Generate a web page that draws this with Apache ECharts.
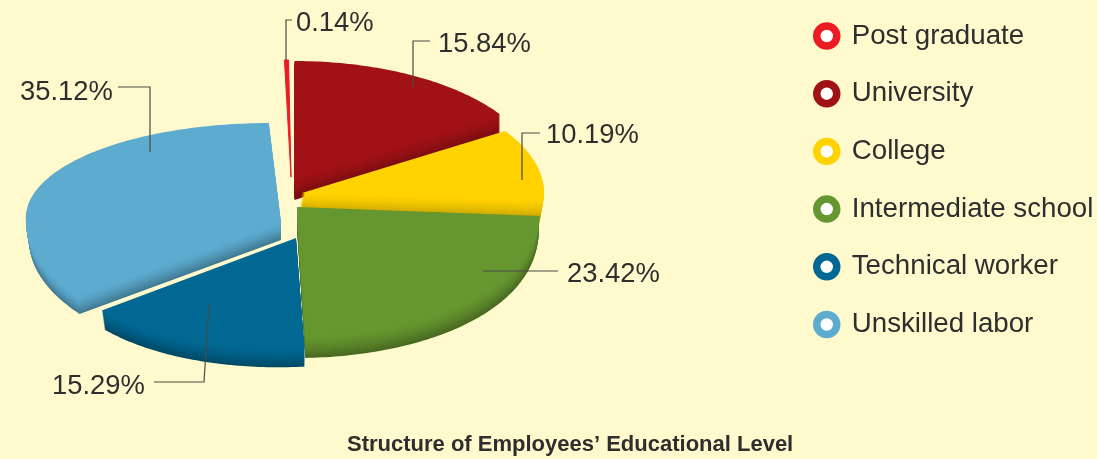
<!DOCTYPE html>
<html><head><meta charset="utf-8">
<style>html,body{margin:0;padding:0;background:#fffacd}#c{width:1097px;height:459px}</style>
<script src="https://cdn.jsdelivr.net/npm/echarts@6/dist/echarts.min.js"></script>
</head><body><div id="c"></div>
<script>
const categories = ['Post graduate','University','College','Intermediate school','Technical worker','Unskilled labor'];
const percents = [0.14,15.84,10.19,23.42,15.29,35.12];
const colors = ['#ed1c24','#a11216','#ffd200','#66962f','#006892','#5dacd0'];
const chartTitle = 'Structure of Employees\u2019 Educational Level';

// drawing style of each exploded slice (not data)
const sliceStyle = [
  {cx:291,cy:177,rimCy:177,rx:247,ryT:117,ryB:117,depth:0,skew:3.4,shear:0,bevel:0,drift:0,vPow:1,minSweep:0.95,edge:1},
  {cx:294.5,cy:178,rimCy:178,rx:245,ryT:117,ryB:117,depth:22,skew:0,shear:0,bevel:0,drift:0,vPow:1},
  {cx:302,cy:193,rimCy:193,rx:242,ryT:114,ryB:114,depth:22,skew:0,shear:0,bevel:0,drift:-4,vPow:1},
  {cx:297,cy:207,rimCy:204,rx:243,ryT:133,ryB:133,depth:21,skew:0,shear:0,bevel:0.004,drift:0,vPow:0.88},
  {cx:296,cy:238,rimCy:238,rx:243,ryT:110,ryB:110,depth:19,skew:0,shear:-8,bevel:0.014,drift:0,vPow:1},
  {cx:281,cy:222,rimCy:222,rx:255,ryT:99,ryB:123,depth:18,skew:10,shear:0,bevel:0.012,drift:0,vPow:1}
];
const leaderStyle = [
  {pts:[[286,60],[286,20],[292,20]],tx:296,ty:23},
  {pts:[[413,87],[413,41],[430,41]],tx:438,ty:44},
  {pts:[[522,180],[522,133],[540,133]],tx:546,ty:135},
  {pts:[[483,271],[558,271]],tx:567,ty:274},
  {pts:[[209,305],[204,382],[154,382]],tx:52,ty:386},
  {pts:[[150,152],[150,87],[118,87]],tx:20,ty:92}
];

const total = percents.reduce((a,b)=>a+b,0);
function hexMix(hex,f){
  const n=parseInt(hex.slice(1),16);
  const r=(n>>16)&255,g=(n>>8)&255,b=n&255;
  return 'rgb('+Math.round(r*f)+','+Math.round(g*f)+','+Math.round(b*f)+')';
}
function sliceRenderer(idx){
  return function(params,api){
    const val=api.value(0), s=sliceStyle[idx];
    let cum=-percents[0];
    for(let i=0;i<idx;i++) cum+=percents[i];
    let a0=cum/total*360, sweep=val/total*360;
    if(s.minSweep && sweep<s.minSweep){a0-=(s.minSweep-sweep)/2; sweep=s.minSweep;}
    const pts=[[s.cx,s.cy]];
    const n=Math.max(2,Math.ceil(sweep));
    for(let i=0;i<=n;i++){
      const t=(a0+sweep*i/n)*Math.PI/180;
      const u=Math.sin(t), v0=-Math.cos(t);
      const v=Math.sign(v0)*Math.pow(Math.abs(v0),s.vPow);
      pts.push([s.cx+s.rx*u+(v<0?s.skew*v:0), s.rimCy+v*(v<0?s.ryT:s.ryB)+s.shear*u]);
    }
    const children=[];
    for(let d=s.depth;d>=0;d--){
      const k=s.depth?d/s.depth:0;
      const f=1-0.3*Math.pow(k,1.5);
      children.push({type:'polygon',z2:s.depth-d,
        shape:{points:pts.map(p=>[s.cx+(p[0]-s.cx)*(1-s.bevel*k)+s.drift*k,p[1]+d])},
        style:{fill:hexMix(colors[idx],f),stroke:s.edge?colors[idx]:null,lineWidth:s.edge||0}});
    }
    return {type:'group',children};
  };
}
function labelRenderer(params,api){
  const idx=params.dataIndex, l=leaderStyle[idx];
  return {type:'group',children:[
    {type:'polyline',shape:{points:l.pts},style:{stroke:'#4a4a44',lineWidth:1.2,fill:null}},
    {type:'text',style:{x:l.tx,y:l.ty,text:api.value(0).toFixed(2)+'%',fill:'#2e2e2e',
      font:'27.4px "Liberation Sans"',textAlign:'left',textVerticalAlign:'middle'}}
  ]};
}
const series=categories.map((name,i)=>({
  type:'custom',name,coordinateSystem:'none',z:2,silent:true,
  itemStyle:{color:colors[i]},
  data:[[percents[i]]],renderItem:sliceRenderer(i),animation:false
}));
series.push({type:'custom',name:'labels',coordinateSystem:'none',z:5,silent:true,
  data:percents.map(p=>[p]),renderItem:labelRenderer,animation:false});

const chart=echarts.init(document.getElementById('c'),null,{renderer:'canvas'});
chart.setOption({
  animation:false,
  backgroundColor:'#fffacd',
  title:{text:chartTitle,left:347,top:434,itemGap:0,padding:0,
    textStyle:{fontFamily:'"Liberation Sans"',fontWeight:'bold',fontSize:22,color:'#2e2e2e'}},
  legend:{orient:'vertical',left:813,top:22,padding:0,itemWidth:20,itemHeight:20,itemGap:29.7,
    selectedMode:false,
    textStyle:{fontFamily:'"Liberation Sans"',fontSize:27.7,color:'#2e2e2e',padding:[0,0,0,10]},
    data:categories.map((name,i)=>({name,icon:'circle',
      itemStyle:{color:'#fff',borderColor:colors[i],borderWidth:7.5}}))
  },
  series
});
</script></body></html>
